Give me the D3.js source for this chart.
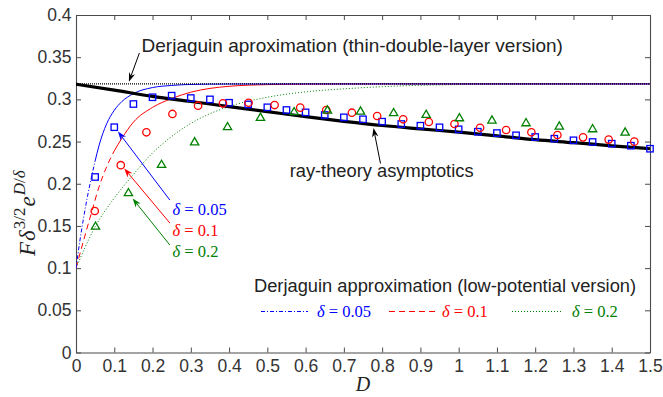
<!DOCTYPE html>
<html><head><meta charset="utf-8">
<script src="https://cdn.jsdelivr.net/npm/d3@7"></script>
<style>
body{margin:0;background:#fff;}
svg{display:block;}
</style></head>
<body>
<svg id="chart" width="663" height="397"></svg>
<script>
// ---------- data ----------
const xTicks = [0,0.1,0.2,0.3,0.4,0.5,0.6,0.7,0.8,0.9,1,1.1,1.2,1.3,1.4,1.5];
const yTicks = [0,0.05,0.1,0.15,0.2,0.25,0.3,0.35,0.4];

// Derjaguin thin-double-layer (constant)
const thinD   = [0, 1.5];
const thinVal = [0.3183, 0.3183];

// ray-theory asymptotics
const rayD   = [0,0.1,0.2,0.3,0.4,0.5,0.6,0.7,0.8,0.9,1.0,1.1,1.2,1.3,1.4,1.5];
const rayVal = [0.318,0.311,0.3035,0.2975,0.2915,0.2855,0.2795,0.2740,0.2690,0.2650,0.2612,0.2568,0.2522,0.2487,0.2450,0.2415];

// Derjaguin low-potential curves
const lp005D   = [0,0.01,0.02,0.03,0.04,0.05,0.06,0.08,0.1,0.12,0.15,0.2,0.25,0.3,0.4,0.6,1.0,1.5];
const lp005Val = [0.100,0.132,0.160,0.185,0.207,0.227,0.245,0.271,0.2870,0.2975,0.3068,0.3140,0.3165,0.3177,0.3182,0.3183,0.3183,0.3183];
const lp01D    = [0,0.02,0.04,0.06,0.08,0.1,0.12,0.15,0.2,0.25,0.3,0.35,0.4,0.5,0.6,0.8,1.0,1.5];
const lp01Val  = [0.100,0.133,0.165,0.196,0.220,0.239,0.254,0.273,0.2905,0.301,0.3085,0.3130,0.3155,0.3175,0.3181,0.3183,0.3183,0.3183];
const lp02D    = [0,0.05,0.1,0.15,0.2,0.25,0.3,0.35,0.4,0.5,0.6,0.7,0.8,0.9,1.0,1.2,1.5];
const lp02Val  = [0.100,0.149,0.183,0.211,0.2365,0.256,0.2715,0.283,0.2915,0.3025,0.3089,0.3125,0.3150,0.3167,0.3175,0.3181,0.3183];

// numerical points
const sqD   = [0.05,0.1,0.15,0.2,0.25,0.3,0.35,0.4,0.45,0.5,0.55,0.6,0.65,0.7,0.75,0.8,0.85,0.9,0.95,1.0,1.05,1.1,1.15,1.2,1.25,1.3,1.35,1.4,1.45,1.5];
const sqVal = [0.208,0.267,0.2945,0.3025,0.3044,0.3016,0.300,0.296,0.294,0.2906,0.2874,0.2846,0.2815,0.2787,0.2764,0.2736,0.2708,0.2688,0.2669,0.2645,0.2617,0.2601,0.2574,0.2554,0.2534,0.2515,0.2495,0.2475,0.2451,0.2415];
const ciD   = [0.049,0.117,0.184,0.252,0.319,0.384,0.451,0.519,0.586,0.654,0.721,0.787,0.855,0.922,0.989,1.056,1.124,1.19,1.258,1.325,1.392,1.459];
const ciVal = [0.1677,0.222,0.261,0.2827,0.2925,0.2953,0.296,0.2933,0.2902,0.2874,0.2842,0.2803,0.2764,0.2732,0.2708,0.2664,0.2637,0.261,0.2578,0.255,0.2523,0.2499];
const trD   = [0.051,0.137,0.2235,0.310,0.396,0.482,0.570,0.657,0.7435,0.830,0.915,1.002,1.087,1.176,1.263,1.35,1.435];
const trVal = [0.149,0.1887,0.2222,0.249,0.2669,0.278,0.2847,0.2866,0.2854,0.2835,0.2815,0.2775,0.2748,0.2716,0.2677,0.2645,0.2605];

const deltaLabels = ["0.05","0.1","0.2"];

// ---------- layout ----------
const svg = d3.select("#chart");
const L = 76, R = 650, T = 15, B = 352.5;
const x = d3.scaleLinear().domain([0,1.5]).range([L,R]);
const y = d3.scaleLinear().domain([0,0.4]).range([B,T]);

const BLUE="#0000ff", RED="#ff0000", GREEN="#008000";
const AXC="#4a4a4a", TXC="#333333";
const sans="'Liberation Sans', Arial, Helvetica, sans-serif";
const serif="'Liberation Serif', 'Times New Roman', serif";
const FS = 18.3;

const zip = (a,b)=>a.map((v,i)=>[v,b[i]]);
const line = d3.line().x(d=>x(d[0])).y(d=>y(d[1])).curve(d3.curveMonotoneX);

svg.append("defs").append("clipPath").attr("id","clip")
  .append("rect").attr("x",L).attr("y",T).attr("width",R-L).attr("height",B-T);

// axes
function styleAxis(g, labels){
  g.select(".domain").attr("stroke",AXC).attr("stroke-width",1.1);
  g.selectAll(".tick line").attr("stroke",AXC).attr("stroke-width",1);
  g.selectAll(".tick text").attr("fill",TXC).attr("font-family",sans).attr("font-size",17.5);
  if(!labels) g.selectAll(".tick text").remove();
}
const fmt = d=>String(+d.toFixed(2));
svg.append("g").attr("transform",`translate(0,${B})`)
  .call(d3.axisBottom(x).tickValues(xTicks).tickFormat(fmt).tickSizeInner(-5).tickSizeOuter(0).tickPadding(7.5))
  .call(g=>styleAxis(g,true));
svg.append("g").attr("transform",`translate(0,${T})`)
  .call(d3.axisTop(x).tickValues(xTicks).tickSizeInner(-5).tickSizeOuter(0))
  .call(g=>styleAxis(g,false));
svg.append("g").attr("transform",`translate(${L},0)`)
  .call(d3.axisLeft(y).tickValues(yTicks).tickFormat(fmt).tickSizeInner(-5).tickSizeOuter(0).tickPadding(4.5))
  .call(g=>styleAxis(g,true));
svg.append("g").attr("transform",`translate(${R},0)`)
  .call(d3.axisRight(y).tickValues(yTicks).tickSizeInner(-5).tickSizeOuter(0))
  .call(g=>styleAxis(g,false));

const plot = svg.append("g").attr("clip-path","url(#clip)");

// low-potential curves: patterned near the start, then solid
function lpCurve(D,V,color,dash,cut){
  const pts = zip(D,V);
  const ia = pts.findIndex(p=>p[0]>cut);
  if(ia<0){
    plot.append("path").attr("d",line(pts)).attr("fill","none").attr("stroke",color)
      .attr("stroke-width",1).attr("stroke-dasharray",dash);
    return;
  }
  plot.append("path").attr("d",line(pts.slice(0,ia+1))).attr("fill","none").attr("stroke",color)
    .attr("stroke-width",1).attr("stroke-dasharray",dash);
  plot.append("path").attr("d",line(pts.slice(ia))).attr("fill","none").attr("stroke",color)
    .attr("stroke-width",1);
}
lpCurve(lp02D,lp02Val,GREEN,"1,2",100);
lpCurve(lp01D,lp01Val,RED,"6,4",0.08);
lpCurve(lp005D,lp005Val,BLUE,"4,2,1,2",0.04);

// thin double layer line
plot.append("path").attr("d",d3.line().x(d=>x(d[0])).y(d=>y(d[1]))(zip(thinD,thinVal)))
  .attr("fill","none").attr("stroke","#000").attr("stroke-width",1.2).attr("stroke-dasharray","1,1");

// ray theory
plot.append("path").attr("d",line(zip(rayD,rayVal))).attr("fill","none")
  .attr("stroke","#000").attr("stroke-width",3.2);

// markers
svg.append("g").selectAll("rect").data(zip(sqD,sqVal)).join("rect")
  .attr("x",d=>x(d[0])-3.2).attr("y",d=>y(d[1])-3.2).attr("width",6.4).attr("height",6.4)
  .attr("fill","none").attr("stroke",BLUE).attr("stroke-width",1.3);
svg.append("g").selectAll("circle").data(zip(ciD,ciVal)).join("circle")
  .attr("cx",d=>x(d[0])).attr("cy",d=>y(d[1])).attr("r",3.7)
  .attr("fill","none").attr("stroke",RED).attr("stroke-width",1.3);
const tri = d3.symbol().type(d3.symbolTriangle).size(30);
svg.append("g").selectAll("path").data(zip(trD,trVal)).join("path")
  .attr("transform",d=>`translate(${x(d[0])},${y(d[1])})`).attr("d",tri)
  .attr("fill","none").attr("stroke",GREEN).attr("stroke-width",1.3);

// arrows (data coordinates)
function arrow(d0,v0,d1,v1,color){
  const x0=x(d0),y0=y(v0),x1=x(d1),y1=y(v1);
  const ang=Math.atan2(y1-y0,x1-x0), len=9, w=3.2;
  const bx=x1-len*Math.cos(ang), by=y1-len*Math.sin(ang);
  const nx=-Math.sin(ang), ny=Math.cos(ang);
  const mx=x1-len*0.7*Math.cos(ang), my=y1-len*0.7*Math.sin(ang);
  svg.append("line").attr("x1",x0).attr("y1",y0).attr("x2",mx).attr("y2",my)
    .attr("stroke",color).attr("stroke-width",1);
  svg.append("path").attr("d",`M${x1},${y1}L${bx+nx*w},${by+ny*w}L${mx},${my}L${bx-nx*w},${by-ny*w}Z`)
    .attr("fill",color).attr("stroke","none");
}
arrow(0.1657,0.3550,0.1383,0.3210,"#000");
arrow(0.7957,0.2240,0.7774,0.2660,"#000");
arrow(0.2452,0.1807,0.1096,0.2619,BLUE);
arrow(0.2452,0.1535,0.1260,0.2181,RED);
arrow(0.2452,0.1274,0.1479,0.1825,GREEN);

// annotation texts
svg.append("text").attr("x",x(0.1714)).attr("y",y(0.3561)).attr("font-family",sans).attr("font-size",19)
  .attr("fill","#222").text("Derjaguin aproximation (thin-double-layer version)");
svg.append("text").attr("x",x(0.5583)).attr("y",y(0.2076)).attr("font-family",sans).attr("font-size",FS)
  .attr("fill","#222").text("ray-theory asymptotics");

function deltaText(sel,xx,yy,val,color){
  const t=sel.append("text").attr("x",xx).attr("y",yy).attr("font-family",serif).attr("font-size",16.5).attr("fill",color);
  t.append("tspan").attr("font-style","italic").text("δ");
  t.append("tspan").text(" = "+val);
  return t;
}
const dCols=[BLUE,RED,GREEN];
const dY=[0.163,0.1384,0.1135];
deltaLabels.forEach((v,i)=>deltaText(svg,x(0.2523),y(dY[i]),v,dCols[i]));

// legend (low-potential version)
svg.append("text").attr("x",254).attr("y",291.5).attr("font-family",sans).attr("font-size",FS)
  .attr("fill","#222").text("Derjaguin approximation (low-potential version)");
const legItems=[
  {x0:261,x1:308,tx:317,dash:"4,2,1,2",c:BLUE},
  {x0:389,x1:435,tx:442,dash:"6,4",c:RED},
  {x0:512,x1:563,tx:572,dash:"1,2",c:GREEN}
];
legItems.forEach((it,i)=>{
  svg.append("path").attr("d",`M${it.x0},311.5H${it.x1}`)
    .attr("fill","none").attr("stroke",it.c).attr("stroke-width",1.2).attr("stroke-dasharray",it.dash);
  deltaText(svg,it.tx,316.5,deltaLabels[i],it.c);
});

// axis labels
svg.append("text").attr("x",(L+R)/2).attr("y",391).attr("text-anchor","middle")
  .attr("font-family",serif).attr("font-size",20).attr("font-style","italic").attr("fill","#222").text("D");
const yl = svg.append("text").attr("transform","translate(35,256) rotate(-90)").attr("text-anchor","start")
  .attr("font-family",serif).attr("font-size",23).attr("fill","#222");
yl.append("tspan").attr("font-style","italic").text("F");
yl.append("tspan").attr("font-style","italic").attr("dx",1).text("δ");
yl.append("tspan").attr("font-size",17).attr("dy",-10).attr("dx",1).text("3/2");
yl.append("tspan").attr("font-style","italic").attr("dy",10).attr("dx",1).text("e");
const sup=yl.append("tspan").attr("font-size",17).attr("dy",-10).attr("dx",1);
sup.append("tspan").attr("font-style","italic").text("D");
sup.append("tspan").text("/");
sup.append("tspan").attr("font-style","italic").text("δ");
</script>
</body></html>
